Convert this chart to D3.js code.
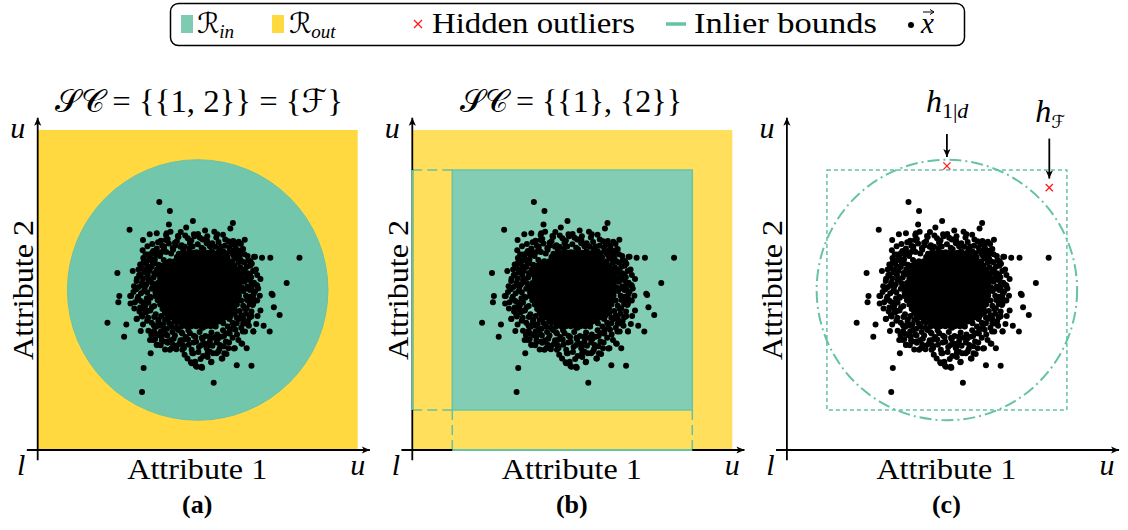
<!DOCTYPE html>
<html>
<head>
<meta charset="utf-8">
<script src="https://cdn.jsdelivr.net/npm/d3@7"></script>
<style>
  body { margin: 0; background: #fff; }
  svg { display: block; }
</style>
</head>
<body>
<svg id="fig" width="1128" height="530"></svg>
<script>
// Attribute space is drawn on 0..100 for both attributes (l = 0, u = 100).

const panelTags = ["(a)", "(b)", "(c)"];

// Scattered observations around the cloud
const sparsePoints = [
  [38.0,77.5],[41.3,74.7],[28.7,68.8],[41.0,70.5],[48.5,71.6],[46.4,69.5],[61.0,70.9],[60.2,69.2],
  [64.7,65.7],[81.8,60.1],[72.7,60.1],[70.1,60.1],[77.8,52.2],[73.4,48.4],[73.8,44.6],[75.6,42.2],
  [70.6,38.8],[72.5,37.0],[68.7,41.9],[66.7,41.7],[67.4,37.0],[66.8,26.3],[62.2,26.5],[55.0,21.0],
  [32.6,18.1],[33.1,25.6],[35.3,30.2],[27.0,35.4],[21.8,39.8],[27.7,39.2],[32.2,37.2],[31.0,41.0],
  [24.9,55.3],[25.5,48.1],[25.2,46.2],[29.7,55.9],[30.1,51.2],[47.9,27.4],[49.4,26.3],[51.4,25.7],
  [54.2,27.4],[57.7,28.6],[56.4,30.7],[54.8,30.2],[53.1,30.4],[48.3,30.2],[63.9,33.2],[65.3,31.8],
  [61.3,31.7],[41.3,31.3],[43.3,31.5],[45.7,31.9],[38.8,34.2],[40.5,33.9],[37.2,33.0],[36.7,34.7],
  [35.5,35.9],[32.7,41.7],[34.4,43.4],[30.4,46.2],[28.9,48.1],[32.0,54.7],[33.0,58.5],[34.3,61.1],
  [32.9,65.6],[35.0,67.4],[37.2,67.7],[35.8,64.4],[38.5,65.4],[40.3,67.7],[46.1,67.0],[48.8,67.4],
  [50.7,66.3],[47.6,65.1],[55.2,68.2],[56.1,67.4],[61.1,65.3],[62.8,65.1],[67.6,60.4],[66.1,59.1],
  [68.6,54.7],[68.6,51.3],[67.4,47.4],[64.1,37.0],[59.6,36.5],[58.8,33.9],
  [33.7,61.1],[35.6,61.5],[37.7,61.7],[33.3,58.9],[34.6,57.3],[36.7,58.3],[31.7,54.7],[33.5,56.3],
  [32.5,51.6],[34.6,53.1],[40.0,65.6],[39.5,62.8],[42.9,64.8],[44.6,63.5],[46.0,63.5],[47.6,64.6],
  [41.5,68.2],[40.1,67.2],[51.5,65.8],[52.8,64.6],[53.8,63.7],[58.0,62.0],[60.1,62.2],[63.0,60.9],
  [67.9,60.4],[66.5,58.9],[65.3,57.3],[66.3,54.7],[64.2,55.7],[68.4,51.6],[68.9,50.5],[66.1,53.1],
  [66.3,50.0],[73.1,48.8],[29.2,48.1],[29.0,45.8],[31.4,47.9],[30.9,40.9],[32.5,42.2],[33.5,43.8],
  [34.6,37.3],[35.1,34.4],[37.2,32.8],[36.1,34.4],[39.3,33.9],[40.6,33.5],[41.9,31.8],[43.4,32.5],
  [45.2,31.3],[45.5,34.4],[47.6,36.5],[48.1,31.3],[48.6,30.2],[49.2,27.6],[48.1,27.1],[51.2,26.0],
  [49.7,26.0],[37.7,40.1],[39.8,40.6],[41.9,38.5],[43.9,37.5],[36.7,36.5],[38.7,35.4],[66.8,41.9],
  [64.2,41.1],[66.0,38.8],[67.4,37.1],[64.8,37.0],[62.7,34.4],[63.7,33.3],[61.6,31.8],[59.6,31.8],
  [58.3,30.2],[57.5,28.6],[59.0,30.0],[53.8,30.7],[55.9,30.2],[51.7,29.4],[54.3,27.6],[51.2,25.8],
  [52.8,31.8],[51.2,32.8],[61.1,43.8],[62.2,39.6],[60.1,37.5],[66.3,47.9],[67.4,45.8],[67.9,49.5],
  [65.3,44.3],[58.0,39.6],[59.0,36.5]
];

// Observations in the band between the scattered ones and the dense centre
const midPoints = [
  [38.9,63.8],[40.6,65.9],[42.2,63.1],[43.8,66.9],[45.5,62.4],[46.9,66.2],[48.4,63.6],[50.1,67.5],
  [51.2,63.2],[52.9,65.4],[54.2,63.9],[55.8,66.4],[57.3,63.6],[58.6,65.8],[59.9,63.3],[61.4,62.4],
  [44.7,68.1],[52.3,68.6],[57.9,67.3],[41.7,61.4],[47.9,60.9],[53.3,61.1],[59.3,60.2],
  [32.8,62.4],[34.3,63.7],[36.1,62.2],[37.6,64.9],[35.1,60.2],[36.9,61.1],[38.8,61.9],[33.9,58.1],
  [35.9,58.6],[37.3,56.4],[34.4,54.6],[32.5,56.9],[38.7,57.1],[40.1,58.6],
  [30.9,52.8],[32.9,53.6],[35.8,52.1],[31.6,50.9],[33.3,49.8],[29.9,49.4],[32.2,46.6],[34.1,47.4],
  [30.2,44.2],[31.8,43.3],[33.6,45.1],[35.7,44.6],[34.2,40.4],[32.9,39.2],[36.3,38.9],[35.1,47.9],
  [36.8,49.2],[36.2,53.9],
  [36.3,37.2],[37.9,35.9],[39.4,37.6],[38.4,32.7],[40.1,36.2],[41.6,34.3],[42.9,35.8],[44.2,33.1],
  [42.3,32.9],[39.8,31.4],[44.9,36.8],[41.1,39.6],[38.6,41.9],[40.8,41.2],[43.5,39.9],
  [45.9,29.8],[47.2,32.9],[46.8,28.6],[48.7,33.6],[50.2,30.6],[50.9,28.4],[52.3,33.2],[53.1,29.1],
  [54.6,32.6],[55.9,33.6],[56.8,31.6],[58.2,32.4],[49.3,35.3],[53.7,35.4],[57.3,35.4],[46.9,38.9],
  [51.6,38.2],[55.6,38.6],
  [59.8,33.6],[60.9,35.1],[62.3,36.1],[63.6,38.2],[61.2,38.4],[65.7,40.2],[64.2,39.5],[62.9,40.9],
  [65.1,42.6],[63.6,42.1],[60.4,42.1],[57.8,41.6],[68.3,39.4],[69.6,43.6],
  [64.8,44.1],[66.2,45.6],[68.6,46.7],[65.4,46.9],[62.9,48.3],[64.8,50.4],[66.9,52.1],[69.6,53.4],
  [63.7,53.6],[65.6,55.2],[68.2,56.4],[66.9,58.2],[64.6,58.6],[63.2,59.8],[62.4,55.8],[69.4,48.2],
  [62.6,51.4],
  [60.7,61.5],[62.6,61.4],[64.2,62.8],[61.8,63.8],[63.5,64.4],[59.6,65.2],[57.2,61.6],[65.6,60.6]
];

// Observations on the outer edge of the dense centre
const ringPoints = [
  [41,64.5],[43.5,65.2],[45,64],[48,65.5],[50,64.3],[52,65.8],[54.5,64.6],[56.5,65],[58.5,63.8],
  [60.5,64.2],[62,62.8],[39.5,63.6],[37.2,63.0],[53,66.8],[49,66.8],[44,66.6],
  [33,60],[32,58],[31.5,56.4],[33.2,55.5],[31,53.5],[32.6,52.3],[30.8,50.2],[32.3,49],[31.2,47.3],
  [33,46],[32,44.5],[33.8,43],[34.5,41.3],[35.6,39.8],[37,38.5],[34.4,59.3],
  [38.5,37],[40.5,35.8],[42.5,34.8],[44.6,34.3],[47,34.5],[49.5,33.8],[51.5,34.6],[53.8,34],
  [56.3,34.7],[58.2,35.6],[60,36.4],[61.8,37.6],[45.5,32.6],[50.4,32.2],[53,32.5],[57,32.8],
  [65,39.5],[66.2,41.4],[66.8,43.3],[67.2,45.3],[66.5,47],[67.5,48.8],[66.8,50.6],[67.6,52.3],
  [66.7,54],[67.3,55.9],[66.4,57.6],[65.8,59.4],[64.6,61.2],[63.6,62.4]
];

// Observations just outside the solid centre
const edgePoints = [
  [40.2,61.9],[42.3,62.6],[44.1,61.3],[47.4,62.9],[49.6,61.8],[51.8,62.7],[54.4,62.1],[56.8,62.9],
  [58.9,61.5],[61.2,60.8],[43.0,63.9],[55.5,63.5],
  [38.2,60.6],[36.6,59.6],[37.8,57.9],[35.6,57.2],[36.4,55.3],[34.8,55.9],[39.4,59.4],
  [35.2,53.3],[34.0,51.8],[35.6,50.4],[34.2,49.3],[35.3,47.6],[34.6,46.1],[36.4,45.0],[35.2,43.6],
  [36.9,42.4],[33.5,50.9],
  [37.8,40.8],[39.2,39.3],[40.4,37.9],[38.2,38.9],[42.1,36.9],[43.4,38.2],[36.4,41.6],
  [45.2,36.4],[47.1,37.4],[48.8,35.7],[50.6,36.9],[52.4,35.6],[54.3,36.7],[56.1,36.1],[57.9,37.4],
  [46.3,35.3],[51.3,35.1],[55.2,35.1],
  [59.4,38.6],[60.9,39.8],[62.2,41.3],[61.6,42.7],[63.1,43.4],[59.9,40.9],
  [64.2,45.1],[63.6,46.7],[65.1,48.2],[64.3,49.7],[65.6,51.1],[64.6,52.6],[65.2,54.1],[64.0,55.3],
  [63.3,57.1],[64.7,56.4],[62.7,58.6],[63.9,58.9],[61.8,59.9]
];

// Solid centre of the cloud, one row of attribute-1 values per attribute-2 value
const coreRows = [
  [38.7, [45,46.5,48,49.5,51,52.5,54,55.5]],
  [40.05,[42.75,44.25,45.75,47.25,48.75,50.25,51.75,53.25,54.75,56.25,57.75]],
  [41.4, [40.5,42,43.5,45,46.5,48,49.5,51,52.5,54,55.5,57,58.5,60]],
  [42.75,[39.75,41.25,42.75,44.25,45.75,47.25,48.75,50.25,51.75,53.25,54.75,56.25,57.75,59.25,60.75]],
  [44.1, [39,40.5,42,43.5,45,46.5,48,49.5,51,52.5,54,55.5,57,58.5,60,61.5]],
  [45.45,[38.25,39.75,41.25,42.75,44.25,45.75,47.25,48.75,50.25,51.75,53.25,54.75,56.25,57.75,59.25,60.75,62.25]],
  [46.8, [37.5,39,40.5,42,43.5,45,46.5,48,49.5,51,52.5,54,55.5,57,58.5,60,61.5,63]],
  [48.15,[36.75,38.25,39.75,41.25,42.75,44.25,45.75,47.25,48.75,50.25,51.75,53.25,54.75,56.25,57.75,59.25,60.75,62.25]],
  [49.5, [37.5,39,40.5,42,43.5,45,46.5,48,49.5,51,52.5,54,55.5,57,58.5,60,61.5,63]],
  [50.85,[36.75,38.25,39.75,41.25,42.75,44.25,45.75,47.25,48.75,50.25,51.75,53.25,54.75,56.25,57.75,59.25,60.75,62.25,63.75]],
  [52.2, [37.5,39,40.5,42,43.5,45,46.5,48,49.5,51,52.5,54,55.5,57,58.5,60,61.5,63]],
  [53.55,[38.25,39.75,41.25,42.75,44.25,45.75,47.25,48.75,50.25,51.75,53.25,54.75,56.25,57.75,59.25,60.75,62.25,63.75]],
  [54.9, [37.5,39,40.5,42,43.5,45,46.5,48,49.5,51,52.5,54,55.5,57,58.5,60,61.5,63]],
  [56.25,[38.25,39.75,41.25,42.75,44.25,45.75,47.25,48.75,50.25,51.75,53.25,54.75,56.25,57.75,59.25,60.75,62.25]],
  [57.6, [39,40.5,42,43.5,45,46.5,48,49.5,51,52.5,54,55.5,57,58.5,60,61.5]],
  [58.95,[41.25,42.75,44.25,45.75,47.25,48.75,50.25,51.75,53.25,54.75,56.25,57.75,59.25,60.75]],
  [60.3, [43.5,45,46.5,48,49.5,51,52.5,54,55.5,57,58.5]],
  [61.65,[45.75,47.25,48.75,50.25,51.75,53.25,54.75,56.25]]
];

// Inlier bounds
const jointBound = { cx: 50, cy: 50, r: 40.7 };     // full subspace {1,2}
const marginalBound = { lo: 12.5, hi: 87.5 };       // each attribute on its own

// Hidden outliers with their labels
const hiddenOutliers = [
  { x: 50, y: 88.75, sub: "1|d" },
  { x: 82, y: 82, sub: "ℱ" }
];

const axisLabels = { x: "Attribute 1", y: "Attribute 2", lo: "l", hi: "u" };

// ---------------------------------------------------------------------------
const SERIF = "'Liberation Serif', 'Times New Roman', serif";
const SCRIPT = "'DejaVu Serif', 'DejaVu Sans', serif";
const C = {
  yellow: "#ffd93f", yellowLight: "#ffdf5c",
  teal: "#66c2a5", tealFill: "#71c6ab", tealLight: "#84cdb5", tealEdge: "#6ac3a6",
  red: "#ff1a1a"
};

const svg = d3.select("#fig");
const size = 320, baseY = 450;
const origins = [37.7, 412.3, 786.9];
const x = d3.scaleLinear().domain([0, 100]).range([0, size]);
const y = d3.scaleLinear().domain([0, 100]).range([size, 0]);

const points = sparsePoints.concat(midPoints, ringPoints, edgePoints,
  coreRows.flatMap(([yy, xs]) => xs.map(xx => [xx, yy])));

const defs = svg.append("defs");
defs.append("marker")
  .attr("id", "head").attr("markerUnits", "userSpaceOnUse")
  .attr("viewBox", "-9 -5 10 10").attr("refX", 0).attr("refY", 0)
  .attr("markerWidth", 10).attr("markerHeight", 10).attr("orient", "auto")
  .append("path").attr("d", "M0,0 L-8,-3.6 L-6,0 L-8,3.6 Z").attr("fill", "#000");
defs.append("marker")
  .attr("id", "headSmall").attr("markerUnits", "userSpaceOnUse")
  .attr("viewBox", "-6 -4 7 8").attr("refX", 0).attr("refY", 0)
  .attr("markerWidth", 7).attr("markerHeight", 8).attr("orient", "auto")
  .append("path").attr("d", "M0,0 L-4,-2.5 M0,0 L-4,2.5")
  .attr("stroke", "#000").attr("stroke-width", 1).attr("fill", "none");

function label(sel, px, py, size) {
  return sel.append("text").attr("x", px).attr("y", py)
    .attr("font-family", SERIF).attr("font-size", size);
}

panelTags.forEach((tag, i) => {
  const g = svg.append("g").attr("transform", `translate(${origins[i]},${baseY - size})`);
  const lo = marginalBound.lo, hi = marginalBound.hi;

  if (i === 0) {
    g.append("rect").attr("x", x(0)).attr("y", y(100))
      .attr("width", x(100) - x(0)).attr("height", y(0) - y(100)).attr("fill", C.yellow);
    g.append("circle").attr("cx", x(jointBound.cx)).attr("cy", y(jointBound.cy))
      .attr("r", x(jointBound.r) - x(0)).attr("fill", C.tealFill)
      .attr("stroke", C.tealEdge).attr("stroke-width", 1);
  }
  if (i === 1) {
    g.append("rect").attr("x", x(0)).attr("y", y(100))
      .attr("width", x(100) - x(0)).attr("height", y(0) - y(100)).attr("fill", C.yellowLight);
    g.append("rect").attr("x", x(lo)).attr("y", y(hi))
      .attr("width", x(hi) - x(lo)).attr("height", y(lo) - y(hi))
      .attr("fill", C.tealLight).attr("stroke", C.tealEdge).attr("stroke-width", 1.5);
    const guides = [
      [[0, hi], [lo, hi]], [[0, lo], [lo, lo]],
      [[lo, 0], [lo, lo]], [[hi, 0], [hi, lo]]
    ];
    g.selectAll(".guide").data(guides).join("line").attr("class", "guide")
      .attr("x1", d => x(d[0][0])).attr("y1", d => y(d[0][1]))
      .attr("x2", d => x(d[1][0])).attr("y2", d => y(d[1][1]))
      .attr("stroke", C.teal).attr("stroke-width", 1.5).attr("stroke-dasharray", "10,5");
  }
  if (i === 2) {
    g.append("rect").attr("x", x(lo)).attr("y", y(hi))
      .attr("width", x(hi) - x(lo)).attr("height", y(lo) - y(hi))
      .attr("fill", "none").attr("stroke", C.teal).attr("stroke-width", 1.5)
      .attr("stroke-dasharray", "4,3");
    g.append("circle").attr("cx", x(jointBound.cx)).attr("cy", y(jointBound.cy))
      .attr("r", x(jointBound.r) - x(0)).attr("fill", "none")
      .attr("stroke", C.teal).attr("stroke-width", 2).attr("stroke-dasharray", "12,4,2,4");
  }

  // observations
  g.append("g").selectAll("circle").data(points).join("circle")
    .attr("cx", d => x(d[0])).attr("cy", d => y(d[1])).attr("r", 3).attr("fill", "#000");

  // axes
  g.append("line").attr("x1", x(-3.4)).attr("y1", y(0)).attr("x2", x(103.8)).attr("y2", y(0))
    .attr("stroke", "#000").attr("stroke-width", 1.8).attr("marker-end", "url(#head)");
  g.append("line").attr("x1", x(0)).attr("y1", y(-3.2)).attr("x2", x(0)).attr("y2", y(103.8))
    .attr("stroke", "#000").attr("stroke-width", 1.8).attr("marker-end", "url(#head)");

  if (i === 1) {
    g.append("line").attr("x1", x(0)).attr("y1", y(lo)).attr("x2", x(0)).attr("y2", y(hi))
      .attr("stroke", C.teal).attr("stroke-width", 2);
    g.append("line").attr("x1", x(lo)).attr("y1", y(0)).attr("x2", x(hi)).attr("y2", y(0))
      .attr("stroke", C.teal).attr("stroke-width", 2);
  }

  if (i === 2) {
    const s = 3.6;
    g.append("g").selectAll("path").data(hiddenOutliers).join("path")
      .attr("transform", d => `translate(${x(d.x)},${y(d.y)})`)
      .attr("d", `M${-s},${-s}L${s},${s}M${-s},${s}L${s},${-s}`)
      .attr("stroke", C.red).attr("stroke-width", 1.3);
    const arrowLen = [23, 40];
    hiddenOutliers.forEach((d, k) => {
      const px = x(d.x), tipY = y(d.y) - 9;
      g.append("line").attr("x1", px).attr("y1", tipY - arrowLen[k]).attr("x2", px).attr("y2", tipY)
        .attr("stroke", "#000").attr("stroke-width", 1.8).attr("marker-end", "url(#head)");
    });
    const t1 = label(g, x(hiddenOutliers[0].x) - 21, -18, 32);
    t1.append("tspan").attr("font-style", "italic").text("h");
    t1.append("tspan").attr("font-size", 22).attr("dy", 6).text("1|");
    t1.append("tspan").attr("font-size", 22).attr("font-style", "italic").text("d");
    const t2 = label(g, x(hiddenOutliers[1].x) - 14, -8, 32);
    t2.append("tspan").attr("font-style", "italic").text("h");
    t2.append("tspan").attr("font-family", SCRIPT).attr("font-size", 18).attr("dy", 6)
      .text(hiddenOutliers[1].sub);
  }

  // axis end labels
  label(g, x(0) - 20, y(100) + 8, 30).attr("font-style", "italic")
    .attr("text-anchor", "middle").text(axisLabels.hi);
  label(g, x(0) - 16.5, y(0) + 25, 30).attr("font-style", "italic")
    .attr("text-anchor", "middle").text(axisLabels.lo);
  label(g, x(100), y(0) + 25, 30).attr("font-style", "italic")
    .attr("text-anchor", "middle").text(axisLabels.hi);

  // axis titles
  label(g, x(50) - 0.5, y(0) + 29, 30).attr("text-anchor", "middle")
    .attr("textLength", 140).attr("lengthAdjust", "spacingAndGlyphs").text(axisLabels.x);
  g.append("text").attr("font-family", SERIF).attr("font-size", 30)
    .attr("transform", `translate(${x(0) - 4.5},${y(50)}) rotate(-90)`)
    .attr("text-anchor", "middle")
    .attr("textLength", 140).attr("lengthAdjust", "spacingAndGlyphs").text(axisLabels.y);

  // panel tag
  label(g, x(50) - 0.5, y(0) + 63, 26).attr("font-weight", "bold")
    .attr("text-anchor", "middle").text(tag);
});

// panel titles
const titles = [
  { cx: 199, w: 288, parts: [["𝒮𝒞", true], [" = {{1, 2}} = {", false], ["ℱ", true], ["}", false]] },
  { cx: 571, w: 222, parts: [["𝒮𝒞", true], [" = {{1}, {2}}", false]] }
];
titles.forEach(t => {
  const el = label(svg, t.cx, 112, 32).attr("text-anchor", "middle")
    .attr("textLength", t.w).attr("lengthAdjust", "spacingAndGlyphs");
  t.parts.forEach(([s, script]) => el.append("tspan")
    .attr("font-family", script ? SCRIPT : null).text(s));
});

// legend
const lg = svg.append("g");
lg.append("rect").attr("x", 170.5).attr("y", 3.5).attr("width", 794).attr("height", 42)
  .attr("rx", 8).attr("fill", "#fff").attr("stroke", "#000").attr("stroke-width", 1.5);
const legendSwatches = [
  { x: 181, fill: "#7ecbb2", sub: "in", tx: 197 },
  { x: 272, fill: C.yellow, sub: "out", tx: 289 }
];
legendSwatches.forEach(d => {
  lg.append("rect").attr("x", d.x).attr("y", 15).attr("width", 12).attr("height", 18).attr("fill", d.fill);
  const t = label(lg, d.tx, 33, 28);
  t.append("tspan").attr("font-family", SCRIPT).text("ℛ");
  t.append("tspan").attr("font-size", 19).attr("font-style", "italic").attr("dy", 5).text(d.sub);
});
lg.append("path").attr("d", "M414,20L422,28M414,28L422,20").attr("stroke", C.red).attr("stroke-width", 1.3);
label(lg, 432, 33, 30)
  .attr("textLength", 203).attr("lengthAdjust", "spacingAndGlyphs").text("Hidden outliers");
lg.append("line").attr("x1", 666).attr("x2", 686).attr("y1", 24).attr("y2", 24)
  .attr("stroke", C.teal).attr("stroke-width", 3.5);
label(lg, 694, 33, 30)
  .attr("textLength", 183).attr("lengthAdjust", "spacingAndGlyphs").text("Inlier bounds");
lg.append("circle").attr("cx", 911).attr("cy", 25).attr("r", 3).attr("fill", "#000");
label(lg, 921, 33, 29).attr("font-style", "italic").text("x");
lg.append("line").attr("x1", 923).attr("x2", 934).attr("y1", 12).attr("y2", 12)
  .attr("stroke", "#000").attr("stroke-width", 1).attr("marker-end", "url(#headSmall)");
</script>
</body>
</html>
